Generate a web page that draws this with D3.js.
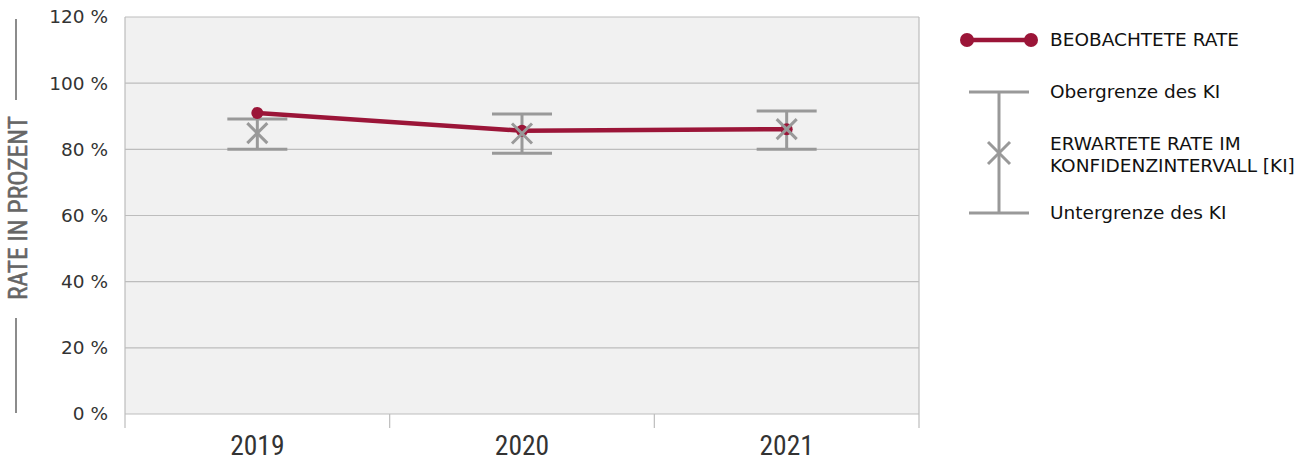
<!DOCTYPE html>
<html><head><meta charset="utf-8">
<script src="https://cdn.jsdelivr.net/npm/d3@7"></script>
<style>body{margin:0;background:#fff}svg{display:block}</style>
</head><body>
<svg id="c" width="1311" height="461"></svg>
<script>
const years = ["2019", "2020", "2021"];
const observed = [91.0, 85.6, 86.1];
const expected = [84.9, 84.8, 86.1];
const upper = [89.2, 90.7, 91.6];
const lower = [80.0, 78.8, 80.0];
const yTicks = [0, 20, 40, 60, 80, 100, 120];
const legendLabels = ["BEOBACHTETE RATE", "Obergrenze des KI", "ERWARTETE RATE IM", "KONFIDENZINTERVALL [KI]", "Untergrenze des KI"];
const yTitle = "RATE IN PROZENT";

const svg = d3.select("#c");
const L = 125, R = 919, T = 17, B = 414;
const x = d3.scaleBand().domain(years).range([L, R]);
const y = d3.scaleLinear().domain([0, 120]).range([B, T]);
const red = "#9b1538", gray = "#999";
const condensed = "'Liberation Sans Narrow','Roboto Condensed','Arial Narrow',sans-serif";

svg.append("rect").attr("x", L).attr("y", T).attr("width", R - L).attr("height", B - T).attr("fill", "#f1f1f1");
// gridlines
svg.append("g").selectAll("line").data(yTicks).join("line")
  .attr("x1", L).attr("x2", R).attr("y1", d => y(d)).attr("y2", d => y(d))
  .attr("stroke", "#bdbdbd").attr("stroke-width", 1.2);
// side borders
svg.append("line").attr("x1", L).attr("x2", L).attr("y1", T).attr("y2", B + 14).attr("stroke", "#bdbdbd").attr("stroke-width", 1.2);
svg.append("line").attr("x1", R).attr("x2", R).attr("y1", T).attr("y2", B + 14).attr("stroke", "#bdbdbd").attr("stroke-width", 1.2);
// x band ticks
const bounds = years.slice(1).map(d => x(d));
svg.append("g").selectAll("line").data(bounds).join("line")
  .attr("x1", d => d).attr("x2", d => d).attr("y1", B).attr("y2", B + 14)
  .attr("stroke", "#bdbdbd").attr("stroke-width", 1.2);

// y tick labels
svg.append("g").selectAll("text").data(yTicks).join("text")
  .attr("x", 108).attr("y", d => y(d)).attr("dy", "0.35em").attr("text-anchor", "end")
  .attr("font-family", "'DejaVu Sans',sans-serif").attr("font-size", 18.5).attr("fill", "#333")
  .text(d => d + " %");
// x labels
svg.append("g").selectAll("text").data(years).join("text")
  .attr("x", d => x(d) + x.bandwidth() / 2).attr("y", 455).attr("text-anchor", "middle")
  .attr("font-family", condensed).attr("font-size", 27.5).attr("fill", "#333")
  .text(d => d);

// y title
svg.append("text").attr("transform", "translate(27,208) rotate(-90)").attr("text-anchor", "middle")
  .attr("font-family", condensed).attr("font-size", 25.5).attr("fill", "#666")
  .attr("stroke", "#666").attr("stroke-width", 0.5).text(yTitle);
svg.append("line").attr("x1", 16).attr("x2", 16).attr("y1", 19).attr("y2", 100).attr("stroke", "#666").attr("stroke-width", 1.5);
svg.append("line").attr("x1", 16).attr("x2", 16).attr("y1", 318).attr("y2", 413).attr("stroke", "#666").attr("stroke-width", 1.5);

const cx = d => x(d) + x.bandwidth() / 2;
const data = years.map((d, i) => ({ yr: d, obs: observed[i], exp: expected[i], up: upper[i], lo: lower[i] }));

// error bars
const eb = svg.append("g").attr("stroke", gray).attr("stroke-width", 3).attr("fill", "none");
data.forEach(d => {
  const c = cx(d.yr);
  eb.append("line").attr("x1", c).attr("x2", c).attr("y1", y(d.up)).attr("y2", y(d.lo));
  eb.append("line").attr("x1", c - 30).attr("x2", c + 30).attr("y1", y(d.up)).attr("y2", y(d.up));
  eb.append("line").attr("x1", c - 30).attr("x2", c + 30).attr("y1", y(d.lo)).attr("y2", y(d.lo));
});

// observed line
svg.append("path").datum(data)
  .attr("d", d3.line().x(d => cx(d.yr)).y(d => y(d.obs)))
  .attr("fill", "none").attr("stroke", red).attr("stroke-width", 4.5);
svg.append("g").selectAll("circle").data(data).join("circle")
  .attr("cx", d => cx(d.yr)).attr("cy", d => y(d.obs)).attr("r", 6).attr("fill", red);

// expected X markers
const xm = svg.append("g").attr("stroke", gray).attr("stroke-width", 3);
data.forEach(d => {
  const c = cx(d.yr), v = y(d.exp), h = 10, w = 10;
  xm.append("line").attr("x1", c - w).attr("x2", c + w).attr("y1", v - h).attr("y2", v + h);
  xm.append("line").attr("x1", c - w).attr("x2", c + w).attr("y1", v + h).attr("y2", v - h);
});

// legend
const lg = svg.append("g");
lg.append("line").attr("x1", 966).attr("x2", 1032).attr("y1", 40).attr("y2", 40).attr("stroke", red).attr("stroke-width", 4.5);
lg.append("circle").attr("cx", 967).attr("cy", 40).attr("r", 7).attr("fill", red);
lg.append("circle").attr("cx", 1031).attr("cy", 40).attr("r", 7).attr("fill", red);
const lgG = lg.append("g").attr("stroke", gray).attr("stroke-width", 3);
lgG.append("line").attr("x1", 999).attr("x2", 999).attr("y1", 92).attr("y2", 213);
lgG.append("line").attr("x1", 969).attr("x2", 1029).attr("y1", 92).attr("y2", 92);
lgG.append("line").attr("x1", 969).attr("x2", 1029).attr("y1", 213).attr("y2", 213);
lgG.append("line").attr("x1", 988).attr("x2", 1010).attr("y1", 142).attr("y2", 164);
lgG.append("line").attr("x1", 988).attr("x2", 1010).attr("y1", 164).attr("y2", 142);
const lgY = [40, 92, 144, 166, 213];
lg.selectAll("text").data(legendLabels).join("text")
  .attr("x", 1050).attr("y", (d, i) => lgY[i]).attr("dy", "0.35em")
  .attr("font-family", "'DejaVu Sans',sans-serif").attr("font-size", 18.5).attr("fill", "#111")
  .text(d => d);
</script>
</body></html>
